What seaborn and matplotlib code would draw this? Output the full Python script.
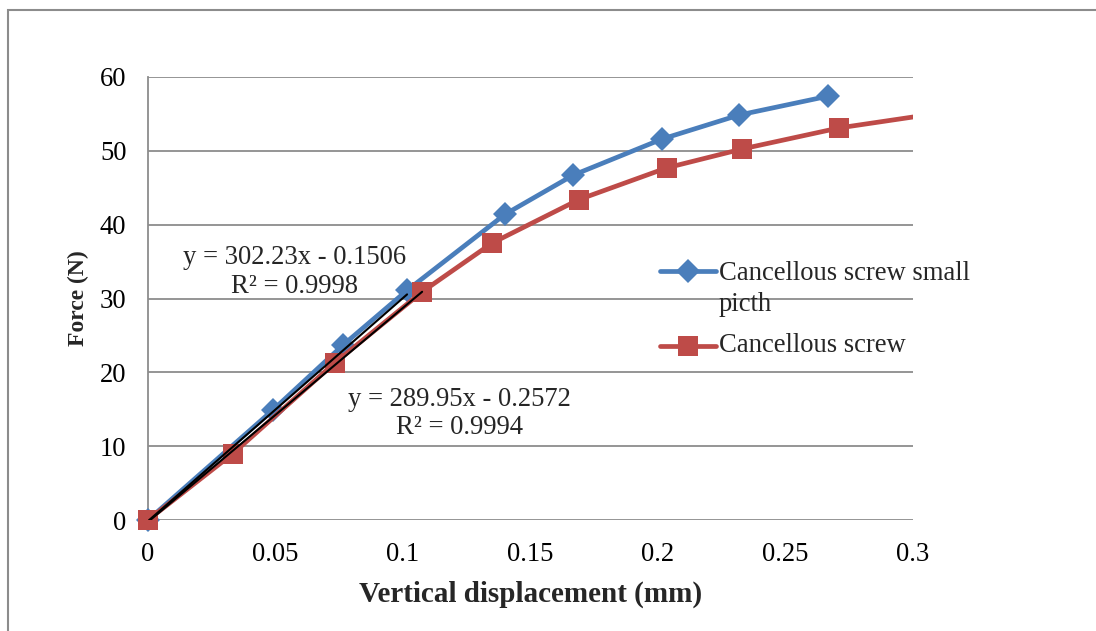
import numpy as np
import pandas as pd
import matplotlib
matplotlib.use("Agg")
import matplotlib.pyplot as plt
from matplotlib.lines import Line2D
from matplotlib.patches import Rectangle
import seaborn as sns

# Load-displacement measurements
small_pitch_disp = [0, 0.049, 0.0765, 0.1016, 0.140, 0.1667, 0.2016, 0.2318, 0.2667]
small_pitch_force = [0, 14.9, 23.7, 31.1, 41.4, 46.7, 51.6, 54.85, 57.4]
screw_disp = [0, 0.0333, 0.0733, 0.1075, 0.1349, 0.1690, 0.2035, 0.2330, 0.2710, 0.315]
screw_force = [0, 9.0, 21.3, 30.9, 37.5, 43.4, 47.7, 50.25, 53.1, 55.35]

# Linear fits over the initial (elastic) region
fit_small = (302.23, -0.1506, 0.9998)
fit_screw = (289.95, -0.2572, 0.9994)
fit_small_end = 0.1016
fit_screw_end = 0.1075

series_names = ["Cancellous screw small\npicth", "Cancellous screw"]
blue = "#4a7ebb"
red = "#be4b48"

sns.set_theme(style="white")
plt.rcParams["font.family"] = ["Liberation Serif", "DejaVu Serif"]

FS = 19.2
LW = 3.4
D_SIZE = 12.5
S_SIZE = 14.5
X_MAX = 0.3

W, H = 1096, 631
fig = plt.figure(figsize=(W / 100, H / 100), dpi=100)
ax = fig.add_axes([148 / W, (H - 520) / H, (913 - 148) / W, (520 - 77) / H])

df_small = pd.DataFrame({"x": small_pitch_disp, "y": small_pitch_force})
df_screw = pd.DataFrame({"x": screw_disp, "y": screw_force})

# connecting lines are clipped to the plot area; markers are not
for df, color, mk, ms in ((df_small, blue, "D", D_SIZE), (df_screw, red, "s", S_SIZE)):
    sns.lineplot(data=df, x="x", y="y", ax=ax, color=color, lw=LW, sort=False, zorder=3)
    shown = df[df["x"] <= X_MAX]
    sns.lineplot(data=shown, x="x", y="y", ax=ax, color=color, lw=0, marker=mk,
                 markersize=ms, markeredgewidth=0, sort=False, zorder=3, clip_on=False)

for (m, b, _), end in ((fit_small, fit_small_end), (fit_screw, fit_screw_end)):
    xs = np.array([0.0, end])
    ax.plot(xs, m * xs + b, color="black", lw=1.5, zorder=4)

ax.set_xlim(0, X_MAX)
ax.set_ylim(0, 60)
ax.set_xticks(np.arange(0, 0.31, 0.05))
ax.set_xticklabels(["0", "0.05", "0.1", "0.15", "0.2", "0.25", "0.3"])
ax.set_yticks(np.arange(0, 61, 10))
ax.grid(axis="y", color="#8c8c8c", lw=1.3)
ax.set_axisbelow(True)
for s in ("top", "right", "bottom"):
    ax.spines[s].set_visible(False)
ax.spines["left"].set_color("#8c8c8c")
ax.spines["left"].set_linewidth(1.3)
ax.tick_params(axis="both", length=0, labelsize=FS, colors="black")
ax.tick_params(axis="x", pad=16)
ax.tick_params(axis="y", pad=15.5)

ax.set_xlabel("Vertical displacement (mm)", fontsize=21, fontweight="bold", labelpad=10)
ax.set_ylabel("Force (N)", fontsize=17, fontweight="bold", labelpad=8)

ax.text(0.0573, 33.6, f"y = {fit_small[0]}x - {fit_small[1] * -1}\nR² = {fit_small[2]}",
        ha="center", va="center", fontsize=FS, linespacing=1.19, zorder=5)
ax.text(0.122, 14.4, f"y = {fit_screw[0]}x - {fit_screw[1] * -1}\nR² = {fit_screw[2]}",
        ha="center", va="center", fontsize=FS, linespacing=1.19, zorder=5)

# Legend drawn on the figure
def fx(px):
    return px / W

def fy(py):
    return (H - py) / H

for name, color, mk, ms, ypx in ((series_names[0], blue, "D", D_SIZE, 271),
                                  (series_names[1], red, "s", S_SIZE, 346)):
    fig.add_artist(Line2D([fx(660), fx(716)], [fy(ypx), fy(ypx)], color=color, lw=LW,
                          solid_capstyle="round", transform=fig.transFigure))
    fig.add_artist(Line2D([fx(688)], [fy(ypx)], color=color, marker=mk, markersize=ms,
                          markeredgewidth=0, transform=fig.transFigure))
    fig.text(fx(719), fy(ypx - 10) if "\n" in name else fy(ypx), name, ha="left",
             va="top" if "\n" in name else "center", fontsize=FS, linespacing=1.3)

# outer chart frame
fig.add_artist(Rectangle((fx(8), fy(H + 20)), 1.2, fy(10) - fy(H + 20), fill=False,
                         edgecolor="#8c8c8c", lw=1.5, transform=fig.transFigure))

fig.savefig("out.png", dpi=100)
